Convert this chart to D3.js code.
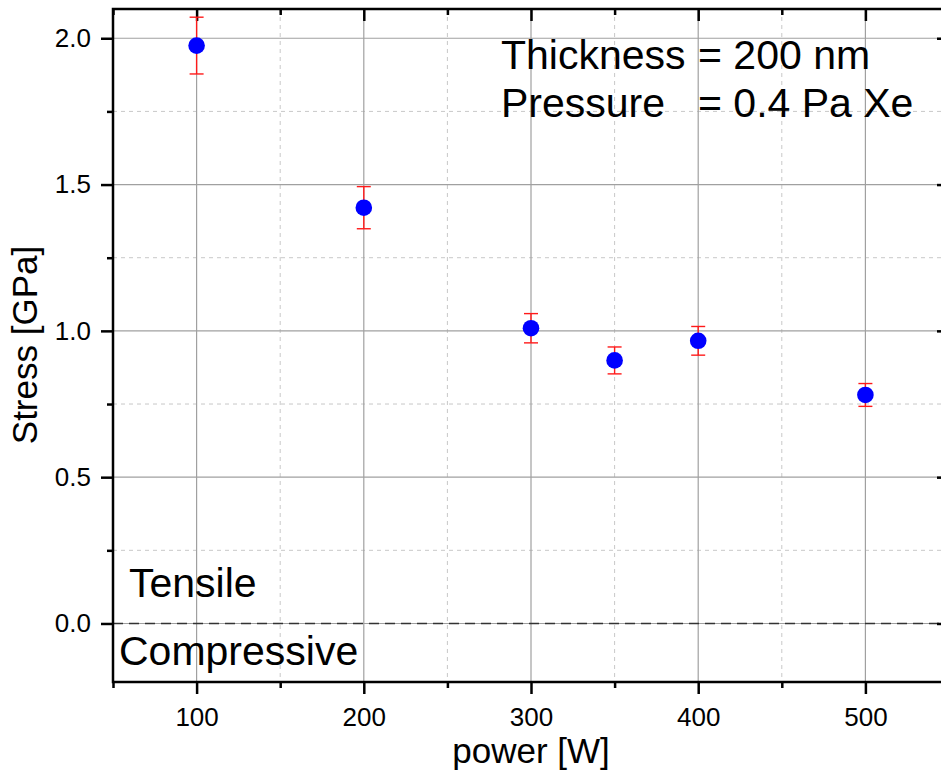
<!DOCTYPE html>
<html>
<head>
<meta charset="utf-8">
<script src="https://cdn.jsdelivr.net/npm/d3@7"></script>
<style>
  html, body { margin: 0; padding: 0; background: #fff; }
  svg { display: block; font-family: "Liberation Sans", Arial, sans-serif; }
</style>
</head>
<body>
<svg id="chart" width="941" height="776"></svg>
<script>
// Film stress vs. sputtering power
const power = [100, 200, 300, 350, 400, 500];
const stress = [1.975, 1.421, 1.009, 0.899, 0.966, 0.781];
const stressErr = [0.097, 0.072, 0.050, 0.046, 0.049, 0.039];

const xTicks = [100, 200, 300, 400, 500];
const xMinorTicks = [50, 150, 250, 350, 450, 550];
const yTicks = [0.0, 0.5, 1.0, 1.5, 2.0];
const yMinorTicks = [0.25, 0.75, 1.25, 1.75];

const svg = d3.select("#chart");

const plotL = 113, plotR = 949, plotT = 9, plotB = 682;

const x = d3.scaleLinear().domain([50, 550]).range([plotL, plotR]);
const y = d3.scaleLinear().domain([-0.2, 2.1]).range([plotB, plotT]);

const plot = svg.append("g");

// minor grid (dashed, light)
plot.append("g").selectAll("line").data(xMinorTicks).join("line")
  .attr("x1", d => x(d)).attr("x2", d => x(d))
  .attr("y1", plotT).attr("y2", plotB)
  .attr("stroke", "#c8c8c8").attr("stroke-width", 1).attr("stroke-dasharray", "4,4");
plot.append("g").selectAll("line").data(yMinorTicks).join("line")
  .attr("x1", plotL).attr("x2", plotR)
  .attr("y1", d => y(d)).attr("y2", d => y(d))
  .attr("stroke", "#c8c8c8").attr("stroke-width", 1).attr("stroke-dasharray", "4,4");

// major grid (solid, gray)
plot.append("g").selectAll("line").data(xTicks).join("line")
  .attr("x1", d => x(d)).attr("x2", d => x(d))
  .attr("y1", plotT).attr("y2", plotB)
  .attr("stroke", "#a0a0a0").attr("stroke-width", 1.2);
plot.append("g").selectAll("line").data(yTicks).join("line")
  .attr("x1", plotL).attr("x2", plotR)
  .attr("y1", d => y(d)).attr("y2", d => y(d))
  .attr("stroke", "#a0a0a0").attr("stroke-width", 1.2);

// zero-stress reference line
plot.append("line")
  .attr("x1", plotL).attr("x2", plotR)
  .attr("y1", y(0)).attr("y2", y(0))
  .attr("stroke", "#333").attr("stroke-width", 1.6).attr("stroke-dasharray", "10,6");

// axes
const axisStyle = g => {
  g.select(".domain").remove();
  g.selectAll(".tick line").attr("stroke", "#000").attr("stroke-width", 2.5);
  g.selectAll(".tick text").attr("fill", "#000").attr("font-size", 26)
    .attr("font-family", "Liberation Sans, Arial, sans-serif");
};

svg.append("g").attr("transform", `translate(0,${plotB})`)
  .call(d3.axisBottom(x).tickValues(xTicks).tickFormat(d3.format("d")).tickSize(12).tickPadding(14))
  .call(axisStyle);
svg.append("g").attr("transform", `translate(0,${plotB})`)
  .call(d3.axisBottom(x).tickValues(xMinorTicks).tickFormat("").tickSize(6))
  .call(axisStyle);

svg.append("g").attr("transform", `translate(${plotL},0)`)
  .call(d3.axisLeft(y).tickValues(yTicks).tickFormat(d3.format(".1f")).tickSize(12).tickPadding(10))
  .call(axisStyle);
svg.append("g").attr("transform", `translate(${plotL},0)`)
  .call(d3.axisLeft(y).tickValues(yMinorTicks).tickFormat("").tickSize(6))
  .call(axisStyle);

// mirrored inward ticks on top and right
svg.append("g").attr("transform", `translate(0,${plotT})`)
  .call(d3.axisTop(x).tickValues(xTicks).tickFormat("").tickSize(-12))
  .call(axisStyle);
svg.append("g").attr("transform", `translate(0,${plotT})`)
  .call(d3.axisTop(x).tickValues(xMinorTicks).tickFormat("").tickSize(-6))
  .call(axisStyle);
svg.append("g").attr("transform", `translate(${plotR},0)`)
  .call(d3.axisRight(y).tickValues(yTicks).tickFormat("").tickSize(-12))
  .call(axisStyle);
svg.append("g").attr("transform", `translate(${plotR},0)`)
  .call(d3.axisRight(y).tickValues(yMinorTicks).tickFormat("").tickSize(-6))
  .call(axisStyle);

// frame
svg.append("rect")
  .attr("x", plotL).attr("y", plotT)
  .attr("width", plotR - plotL).attr("height", plotB - plotT)
  .attr("fill", "none").attr("stroke", "#000").attr("stroke-width", 2.5);

// error bars
const pts = power.map((p, i) => ({ p, s: stress[i], e: stressErr[i] }));
const eb = svg.append("g").attr("stroke", "#ff1a1a").attr("stroke-width", 1.4);
eb.selectAll("line.v").data(pts).join("line").attr("class", "v")
  .attr("x1", d => x(d.p)).attr("x2", d => x(d.p))
  .attr("y1", d => y(d.s + d.e)).attr("y2", d => y(d.s - d.e));
eb.selectAll("line.t").data(pts).join("line").attr("class", "t")
  .attr("x1", d => x(d.p) - 7).attr("x2", d => x(d.p) + 7)
  .attr("y1", d => y(d.s + d.e)).attr("y2", d => y(d.s + d.e));
eb.selectAll("line.b").data(pts).join("line").attr("class", "b")
  .attr("x1", d => x(d.p) - 7).attr("x2", d => x(d.p) + 7)
  .attr("y1", d => y(d.s - d.e)).attr("y2", d => y(d.s - d.e));

// markers
svg.append("g").selectAll("circle").data(pts).join("circle")
  .attr("cx", d => x(d.p)).attr("cy", d => y(d.s))
  .attr("r", 8.3).attr("fill", "#0000ff");

// annotations
const note = svg.append("g").attr("font-size", 41).attr("fill", "#000");
note.append("text").attr("x", 501).attr("y", 69).text("Thickness");
note.append("text").attr("x", 698).attr("y", 69).text("= 200 nm");
note.append("text").attr("x", 501).attr("y", 117).text("Pressure");
note.append("text").attr("x", 698).attr("y", 117).text("= 0.4 Pa Xe");

svg.append("text").attr("x", 129).attr("y", 597).attr("font-size", 41).text("Tensile");
svg.append("text").attr("x", 119).attr("y", 665).attr("font-size", 41).text("Compressive");

// axis titles
svg.append("text").attr("x", 531).attr("y", 763)
  .attr("text-anchor", "middle").attr("font-size", 35).text("power [W]");
svg.append("text")
  .attr("transform", `translate(37,345) rotate(-90)`)
  .attr("text-anchor", "middle").attr("font-size", 35).text("Stress [GPa]");
</script>
</body>
</html>
